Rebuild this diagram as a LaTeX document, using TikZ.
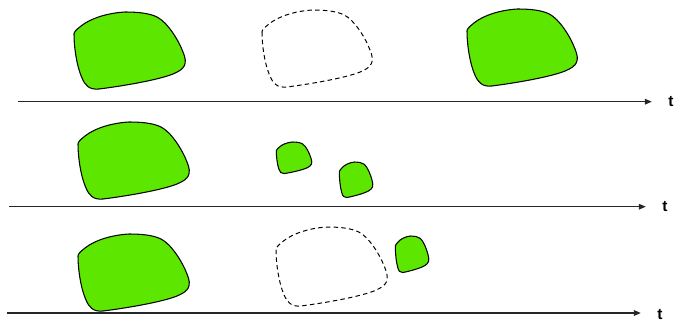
\documentclass[tikz,border=0pt]{standalone}
\usepackage{fontspec}
\setmainfont{Liberation Sans}
\usepackage{tikz}
\usetikzlibrary{calc, positioning, arrows.meta}
\definecolor{Miverde}{RGB}{92,230,0}

% blob: estilo, x, y (esquina sup. izq.), ancho, alto
\newcommand{\blob}[5]{%
  \draw[#1, shift={(#2,#3)}, xscale=#4/113, yscale=#5/78]
    (1,22) .. controls (1,36) and (4,55) .. (9,66)
    .. controls (12,73) and (16,78) .. (26,77)
    .. controls (50,74) and (85,68) .. (100,62)
    .. controls (112,57) and (115,52) .. (110,40)
    .. controls (105,27) and (94,10) .. (84,5)
    .. controls (76,1) and (64,0) .. (52,0)
    .. controls (35,1) and (18,6) .. (8,14)
    .. controls (3,18) and (1,20) .. cycle;}

\begin{document}
\begin{tikzpicture}[
  x=0.025cm, y=-0.025cm,
  lleno/.style={fill=Miverde, draw=black, line width=0.75pt},
  vacio/.style={draw=black, line width=0.7pt, dash pattern=on 3.2pt off 2.3pt},
  eje/.style={draw=black!85, line width=0.9pt,
    -{Triangle[length=5pt, width=4pt]}, shorten >=11.5pt},
  tlabel/.style={font=\fontsize{11}{12}\selectfont\bfseries, inner sep=0pt, anchor=west}
]
  \useasboundingbox (0,0) rectangle (675,323);

  % --- Fila 1 ---
  \blob{lleno}{73}{12}{113}{78}
  \blob{vacio}{261}{10}{112}{78}
  \blob{lleno}{466}{9}{112}{78}
  \node[tlabel] (t1) at (668,102) {t};
  \coordinate (o1) at (18,101.7);
  \draw[eje] (o1) -- (o1 -| t1.west);

  % --- Fila 2 ---
  \blob{lleno}{77}{122}{113}{78}
  \blob{lleno}{276}{142}{36}{32}
  \blob{lleno}{339}{162}{34}{36}
  \node[tlabel] (t2) at (662,207) {t};
  \coordinate (o2) at (9,206.7);
  \draw[eje] (o2) -- (o2 -| t2.west);

  % --- Fila 3 ---
  \blob{lleno}{77}{234}{113}{78}
  \blob{vacio}{275}{227}{113}{80}
  \blob{lleno}{395}{236}{34}{37}
  \node[tlabel] (t3) at (657,314.5) {t};
  \coordinate (o3) at (7,313);
  \draw[eje] (o3) -- (o3 -| t3.west);
\end{tikzpicture}
\end{document}
